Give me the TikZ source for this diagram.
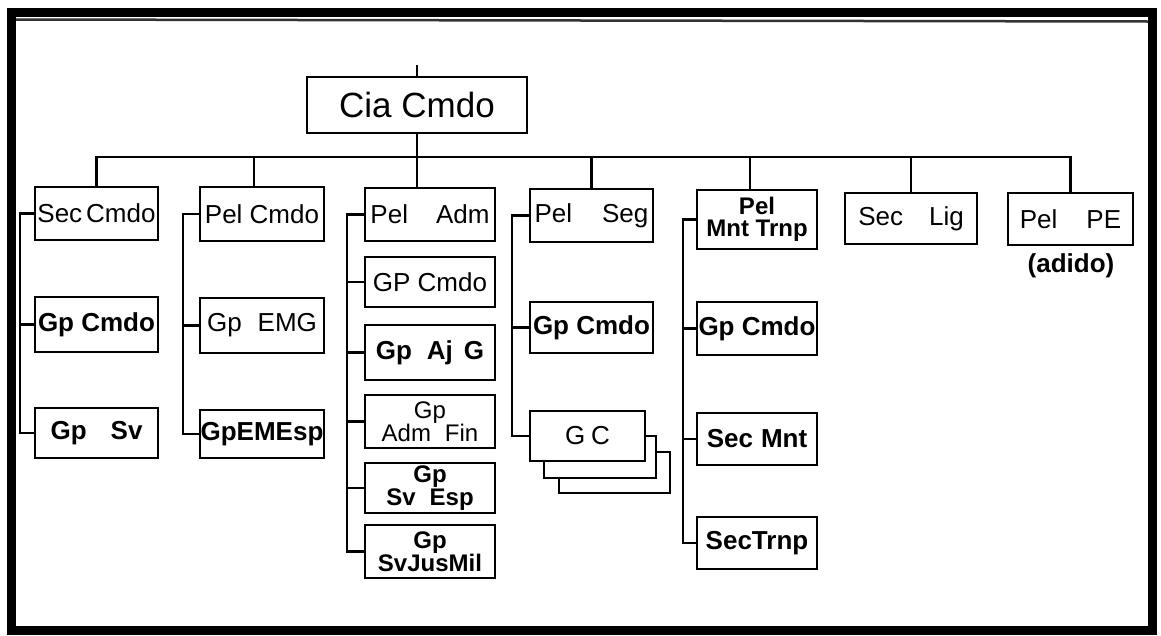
\documentclass[tikz,border=0pt]{standalone}
\usepackage{fontspec}
\setmainfont{Liberation Sans}
\begin{document}
\begin{tikzpicture}[x=1pt,y=-1pt,
  bx/.style={draw=black,fill=white,line width=2.6pt,inner sep=0pt,align=center,
    font=\fontsize{26}{26}\selectfont},
  bold/.style={font=\fontsize{26}{26}\selectfont\bfseries},
  two/.style={font=\fontsize{24}{19}\selectfont},
  twob/.style={font=\fontsize{24}{19}\selectfont\bfseries},
  ln/.style={draw=black,line width=2.6pt,line cap=rect},
  frame/.style={draw=black,line width=9pt}]
\useasboundingbox (0,0) rectangle (1161,635);
\fill[white] (0,0) rectangle (1161,635);
\draw[frame] (11.5,12.5) rectangle (1152.5,630.5);
\draw[line width=2.5pt,black!80] (16,19.5) -- (1148,21.5);

% top level
\node[bx,minimum width=220pt,minimum height=56pt,font=\fontsize{35}{35}\selectfont] (cia) at (417,105) {Cia Cmdo};
\coordinate (topend) at (417,66);
\coordinate (bus) at (0,157);

% second level
\node[bx,minimum width=123pt,minimum height=53pt] (sec) at (96.5,213.5) {Sec\hspace{4pt}Cmdo};
\node[bx,minimum width=124pt,minimum height=54pt] (pel1) at (262,214) {Pel Cmdo};
\node[bx,minimum width=130pt,minimum height=53pt] (adm) at (430,214.5) {Pel\hspace{28pt}Adm};
\node[bx,minimum width=123pt,minimum height=53pt] (seg) at (591.5,215.5) {Pel\hspace{30pt}Seg};
\node[bx,minimum width=120pt,minimum height=59pt,font=\fontsize{24}{22}\selectfont\bfseries] (mnt) at (757,219.5) {Pel\\Mnt Trnp};
\node[bx,minimum width=132pt,minimum height=51pt] (lig) at (911,218.5) {Sec\hspace{26pt}Lig};
\node[bx,minimum width=125pt,minimum height=52pt] (pe) at (1070.5,219) {Pel\hspace{29pt}PE};
\node[font=\fontsize{26}{26}\selectfont\bfseries,inner sep=0pt] (adido) at (1071,266) {(adido)};

% column 1
\node[bx,bold,minimum width=123pt,minimum height=55pt] (gpc1) at (96.5,324.5) {Gp Cmdo};
\node[bx,bold,minimum width=123pt,minimum height=50pt] (gpsv) at (96.5,433) {Gp\hspace{24pt}Sv};
% column 2
\node[bx,minimum width=124pt,minimum height=55pt] (emg) at (262,325.5) {Gp\hspace{16pt}EMG};
\node[bx,bold,minimum width=124pt,minimum height=48pt] (emesp) at (262,434) {GpEMEsp};
% column 3
\node[bx,minimum width=130pt,minimum height=50pt] (gpcmdo3) at (430,282) {GP Cmdo};
\node[bx,bold,minimum width=130pt,minimum height=55pt] (ajg) at (430,352.5) {Gp\hspace{15pt}Aj\hspace{11pt}G};
\node[bx,two,minimum width=130pt,minimum height=53pt] (fin) at (430,421.5) {Gp\\Adm\hspace{14pt}Fin};
\node[bx,twob,minimum width=130pt,minimum height=50pt] (esp) at (430,488) {Gp\\Sv\hspace{14pt}Esp};
\node[bx,twob,minimum width=130pt,minimum height=53pt] (jus) at (430,551.5) {Gp\\SvJusMil};
% column 4
\node[bx,bold,minimum width=123pt,minimum height=51pt] (gpc4) at (591.5,327.5) {Gp Cmdo};
\node[bx,minimum width=111pt,minimum height=41pt] (gc3) at (614.5,472.5) {};
\node[bx,minimum width=112pt,minimum height=42pt] (gc2) at (600,457) {};
\node[bx,minimum width=115pt,minimum height=50pt] (gc) at (587.5,436) {G\hspace{6pt}C};
% column 5
\node[bx,bold,minimum width=120pt,minimum height=53pt] (gpc5) at (757,328.5) {Gp Cmdo};
\node[bx,bold,minimum width=120pt,minimum height=52pt] (smnt) at (757,439) {Sec\hspace{8pt}Mnt};
\node[bx,bold,minimum width=120pt,minimum height=52pt] (strnp) at (757,543) {SecTrnp};

% spines
\coordinate (c1) at (20,0);
\coordinate (c2) at (183,0);
\coordinate (c3) at (347,0);
\coordinate (c4) at (512,0);
\coordinate (c5) at (683,0);

% connectors: top
\draw[ln] (cia.north) -- (topend);
\draw[ln] (cia.south) -- (cia.south |- adm.north);
\draw[ln] (sec.north |- bus) -- (pe.north |- bus);
\draw[ln] (sec.north |- bus) -- (sec.north);
\draw[ln] ([xshift=-8pt]pel1.north |- bus) -- ([xshift=-8pt]pel1.north);
\draw[ln] (seg.north |- bus) -- (seg.north);
\draw[ln] ([xshift=-7pt]mnt.north |- bus) -- ([xshift=-7pt]mnt.north);
\draw[ln] (lig.north |- bus) -- (lig.north);
\draw[ln] (pe.north |- bus) -- (pe.north);

% column 1
\draw[ln] (sec.west) -- (sec.west -| c1) |- (gpsv.west);
\draw[ln] (gpc1.west) -- (gpc1.west -| c1);
% column 2
\draw[ln] (pel1.west) -- (pel1.west -| c2) |- (emesp.west);
\draw[ln] (emg.west) -- (emg.west -| c2);
% column 3
\draw[ln] (adm.west) -- (adm.west -| c3) |- (jus.west);
\foreach \n in {gpcmdo3,ajg,fin,esp} \draw[ln] (\n.west) -- (\n.west -| c3);
% column 4
\draw[ln] (seg.west) -- (seg.west -| c4) |- (gc.west);
\draw[ln] (gpc4.west) -- (gpc4.west -| c4);
% column 5
\draw[ln] (mnt.west) -- (mnt.west -| c5) |- (strnp.west);
\foreach \n in {gpc5,smnt} \draw[ln] (\n.west) -- (\n.west -| c5);
\end{tikzpicture}
\end{document}
